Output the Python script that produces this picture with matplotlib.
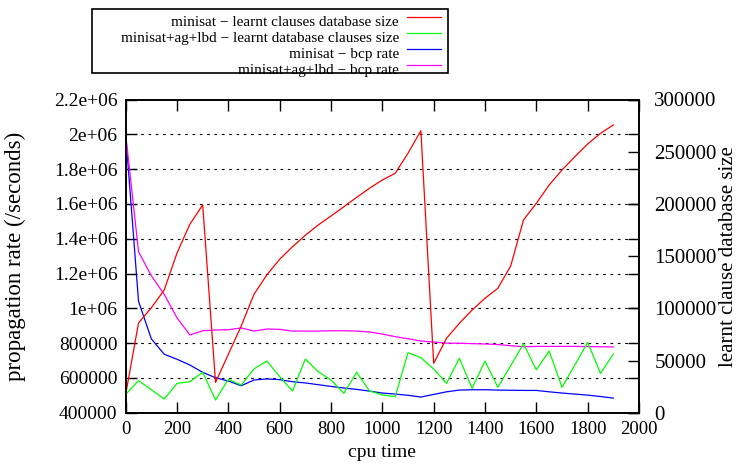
import numpy as np
import matplotlib
matplotlib.use('Agg')
import matplotlib.pyplot as plt
from matplotlib.lines import Line2D
from matplotlib.patches import Rectangle

plt.rcParams['font.family'] = ['Liberation Serif', 'DejaVu Serif']
plt.rcParams['font.size'] = 13

# cpu time samples
cpu_time = [0, 50, 100, 150, 200, 250, 300, 350, 400, 450,
            500, 550, 600, 650, 700, 750, 800, 850, 900, 950,
            1000, 1050, 1100, 1150, 1200, 1250, 1300, 1350, 1400, 1450,
            1500, 1550, 1600, 1650, 1700, 1750, 1800, 1850, 1900]

# learnt clauses db size (right axis)
minisat_db = [17600, 86000, 100500, 117500, 153000, 180500, 199000, 29000, 56000, 83000,
              113500, 132000, 147000, 159000, 170000, 179800, 188400, 197300, 206300, 215000,
              222900, 229300, 248500, 270100, 47300, 71300, 85600, 98400, 109600, 119200,
              140500, 184600, 200600, 218100, 232500, 245200, 257400, 267600, 275600]
lbd_db = [17600, 30700, 22000, 13100, 28100, 29700, 38700, 12200, 32000, 26500,
          42000, 49500, 34500, 20800, 51400, 39300, 31300, 18600, 38700, 20800,
          17000, 15300, 57500, 52700, 41900, 28100, 52100, 23400, 49500, 24300,
          45000, 66000, 41000, 59100, 24300, 45700, 67400, 37700, 56200]

# bcp rate (left axis)
minisat_bcp = [2000000, 1040000, 824000, 736000, 707000, 674000, 632000, 601000, 582000, 555000,
               588000, 594000, 590000, 578000, 571000, 561000, 551000, 542000, 534000, 524000,
               513000, 507000, 500000, 490000, 505000, 520000, 530000, 532000, 532000, 530000,
               529000, 528000, 528000, 520000, 513000, 507000, 501000, 493000, 484000]
lbd_bcp = [2000000, 1325000, 1187000, 1080000, 945000, 847000, 871000, 875000, 877000, 887000,
           869000, 881000, 879000, 869000, 869000, 869000, 871000, 871000, 869000, 864000,
           852000, 837000, 825000, 812000, 806000, 800000, 799000, 797000, 795000, 792000,
           785000, 779000, 781000, 781000, 781000, 781000, 780000, 779000, 778000]

labels = ['minisat \u2212 learnt clauses database size',
          'minisat+ag+lbd \u2212 learnt database clauses size',
          'minisat \u2212 bcp rate',
          'minisat+ag+lbd \u2212 bcp rate']
colors = ['#ff0000', '#00ff00', '#0000ff', '#ff00ff']

left_ticks = [400000, 600000, 800000, 1000000, 1200000, 1400000, 1600000, 1800000, 2000000, 2200000]
left_ticklabels = ['400000', '600000', '800000', '1e+06', '1.2e+06', '1.4e+06',
                   '1.6e+06', '1.8e+06', '2e+06', '2.2e+06']
right_ticks = [0, 50000, 100000, 150000, 200000, 250000, 300000]
x_ticks = [0, 200, 400, 600, 800, 1000, 1200, 1400, 1600, 1800, 2000]

W, H = 741, 466
fig = plt.figure(figsize=(W / 100, H / 100), dpi=100)
ax = fig.add_axes([125.7 / W, 1 - 412.7 / H, (639 - 125.7) / W, (412.7 - 99.5) / H])
ax2 = ax.twinx()

lw = 0.9
ax2.plot(cpu_time, minisat_db, color=colors[0], lw=lw)
ax2.plot(cpu_time, lbd_db, color=colors[1], lw=lw)
ax.plot(cpu_time, minisat_bcp, color=colors[2], lw=lw)
ax.plot(cpu_time, lbd_bcp, color=colors[3], lw=lw)

ax.set_xlim(0, 2000)
ax.set_ylim(400000, 2200000)
ax2.set_ylim(0, 300000)

ax.set_xticks(x_ticks)
ax.set_yticks(left_ticks)
ax.set_yticklabels(left_ticklabels)
ax2.set_yticks(right_ticks)
ax2.set_yticklabels([str(v) for v in right_ticks])

for yv in left_ticks[1:-1]:
    ax.axhline(yv, color='black', lw=0.8, ls=(0, (2.4, 4.2)), zorder=0)

ax.tick_params(axis='x', direction='in', length=8, width=1, top=True, pad=6, labelsize=13.5)
ax.tick_params(axis='y', direction='in', length=8, width=1, right=True, pad=6, labelsize=14)
ax2.tick_params(axis='y', direction='in', length=8, width=1, pad=11, labelsize=15)
for a in (ax, ax2):
    for s in a.spines.values():
        s.set_linewidth(1.2)

ax.set_xlabel('cpu time', labelpad=4, fontsize=14)
ax.set_ylabel('propagation rate (/seconds)', labelpad=20, fontsize=16.5)
ax2.set_ylabel('learnt clause database size', labelpad=2, fontsize=15)

# legend box drawn gnuplot style: text right aligned, sample on the right
fig.patches.append(Rectangle((91.7 / W, 1 - 73.3 / H), (447.7 - 91.7) / W, (73.3 - 9) / H,
                             transform=fig.transFigure, fill=False, ec='black', lw=1.2))
for i, (lab, col) in enumerate(zip(labels, colors)):
    base = 25.5 + 16.1 * i
    fig.text(399 / W, 1 - base / H, lab, ha='right', va='baseline', fontsize=11)
    ly = 1 - (base - 8.5) / H
    fig.lines.append(Line2D([406.7 / W, 440.7 / W], [ly, ly], color=col, lw=lw,
                            transform=fig.transFigure))

fig.savefig('out.png', dpi=100)
